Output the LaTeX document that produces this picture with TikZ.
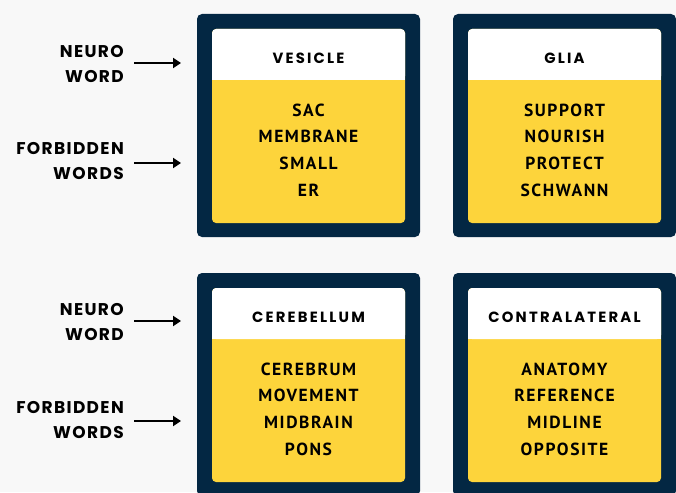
\documentclass[tikz,border=0pt]{standalone}
\usepackage{fontspec}
\usetikzlibrary{arrows.meta}
\newfontfamily\labfont{Poppins}[LetterSpace=8]
\newfontfamily\headfont{Poppins}[LetterSpace=15]
\newfontfamily\bodyfont{PT Sans}[LetterSpace=9]
\definecolor{navy}{HTML}{032743}
\definecolor{cardyellow}{HTML}{FDD43B}
\definecolor{bg}{HTML}{F8F8F8}
\tikzset{
  x=1pt, y=-1pt,
  lab/.style={anchor=east, align=right, font=\labfont\bfseries\fontsize{17}{25}\selectfont, text=black, inner sep=0pt},
  head/.style={font=\headfont\bfseries\fontsize{14.8}{16}\selectfont, text=black, inner sep=0pt},
  body/.style={align=center, font=\bodyfont\bfseries\fontsize{17.5}{26.7}\selectfont, text=black, inner sep=0pt},
  arr/.style={line width=2pt, -{Triangle[length=8pt,width=10pt]}},
}
\newcommand{\mycard}[6]{%
  \fill[navy, rounded corners=5pt] (#2,#3) rectangle ++(223,223);
  \fill[cardyellow, rounded corners=4pt] (#2+15,#3+15) rectangle ++(193,194);
  \fill[white, rounded corners=4pt] (#2+15,#3+15) rectangle ++(193,51);
  \fill[white] (#2+15,#3+40) rectangle ++(193,26);
  \node[head] (#1h) at (#2+111.5,#3+44) {#4};
  \node[body] (#1b) at (#2+111.5,#3+136) {#5};
}
\begin{document}
\begin{tikzpicture}
\fill[bg] (0,0) rectangle (676,492);
\useasboundingbox (0,0) rectangle (676,492);
\mycard{v}{197}{14}{VESICLE}{SAC\\MEMBRANE\\SMALL\\ER}{}
\mycard{g}{453}{14}{GLIA}{SUPPORT\\NOURISH\\PROTECT\\SCHWANN}{}
\mycard{c}{197}{273}{CEREBELLUM}{CEREBRUM\\MOVEMENT\\MIDBRAIN\\PONS}{}
\mycard{t}{453}{273}{CONTRALATERAL}{ANATOMY\\REFERENCE\\MIDLINE\\OPPOSITE}{}

\node[lab] (n1) at (124,64) {NEURO\\WORD};
\node[lab] (f1) at (124,161) {FORBIDDEN\\WORDS};
\node[lab] (n2) at (124,322) {NEURO\\WORD};
\node[lab] (f2) at (124,420) {FORBIDDEN\\WORDS};

\coordinate (a1s) at (134,63); \coordinate (a1e) at (181,63);
\coordinate (a2s) at (134,163); \coordinate (a2e) at (181,163);
\coordinate (a3s) at (134,321); \coordinate (a3e) at (181,321);
\coordinate (a4s) at (134,421); \coordinate (a4e) at (181,421);
\draw[arr] (a1s) -- (a1e);
\draw[arr] (a2s) -- (a2e);
\draw[arr] (a3s) -- (a3e);
\draw[arr] (a4s) -- (a4e);
\end{tikzpicture}
\end{document}
